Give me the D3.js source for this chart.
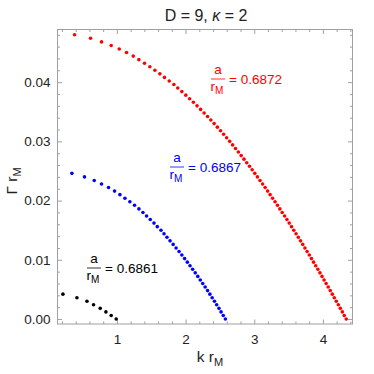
<!DOCTYPE html>
<html>
<head>
<meta charset="utf-8">
<script src="https://cdn.jsdelivr.net/npm/d3@7"></script>
<style>
  body { margin: 0; background: #fff; }
  text { font-family: "Liberation Sans", Arial, sans-serif; }
</style>
</head>
<body>
<div id="chart"></div>
<script>
// Data: k r_M and Gamma r_M for each branch
const kRed = [4.340, 4.311, 4.283, 4.254, 4.225, 4.195, 4.166, 4.137, 4.107, 4.077,
  4.047, 4.017, 3.987, 3.957, 3.926, 3.895, 3.864, 3.833, 3.802, 3.770,
  3.738, 3.706, 3.674, 3.642, 3.609, 3.576, 3.543, 3.509, 3.476, 3.442,
  3.407, 3.373, 3.338, 3.303, 3.267, 3.231, 3.195, 3.159, 3.122, 3.084,
  3.046, 3.008, 2.970, 2.931, 2.891, 2.851, 2.810, 2.769, 2.727, 2.685,
  2.642, 2.598, 2.554, 2.509, 2.463, 2.416, 2.368, 2.320, 2.270, 2.219,
  2.167, 2.114, 2.059, 2.003, 1.946, 1.886, 1.830, 1.762, 1.693, 1.626,
  1.553, 1.480, 1.402, 1.320, 1.238, 1.140, 1.034, 0.917, 0.776, 0.616,
  0.383];
const gammaRed = [0.0000, 0.0006, 0.0012, 0.0018, 0.0024, 0.0030, 0.0036, 0.0042, 0.0048, 0.0054,
  0.0060, 0.0066, 0.0072, 0.0078, 0.0084, 0.0090, 0.0096, 0.0102, 0.0108, 0.0114,
  0.0120, 0.0126, 0.0132, 0.0138, 0.0144, 0.0150, 0.0156, 0.0162, 0.0168, 0.0174,
  0.0180, 0.0186, 0.0192, 0.0198, 0.0204, 0.0210, 0.0216, 0.0222, 0.0228, 0.0234,
  0.0240, 0.0246, 0.0252, 0.0258, 0.0264, 0.0270, 0.0276, 0.0282, 0.0288, 0.0294,
  0.0300, 0.0306, 0.0312, 0.0318, 0.0324, 0.0330, 0.0336, 0.0342, 0.0348, 0.0354,
  0.0360, 0.0366, 0.0372, 0.0378, 0.0384, 0.0390, 0.0396, 0.0402, 0.0408, 0.0414,
  0.0420, 0.0426, 0.0432, 0.0438, 0.0444, 0.0450, 0.0456, 0.0462, 0.0468, 0.0474,
  0.0480];

const kBlue = [2.580, 2.549, 2.517, 2.486, 2.453, 2.421, 2.387, 2.354, 2.320, 2.285,
  2.250, 2.214, 2.178, 2.141, 2.103, 2.065, 2.026, 1.986, 1.946, 1.905,
  1.862, 1.819, 1.774, 1.729, 1.686, 1.642, 1.588, 1.540, 1.486, 1.432,
  1.379, 1.321, 1.257, 1.189, 1.117, 1.044, 0.966, 0.878, 0.776, 0.670,
  0.528, 0.345];
const gammaBlue = [0.0000, 0.0006, 0.0012, 0.0018, 0.0024, 0.0030, 0.0036, 0.0042, 0.0048, 0.0054,
  0.0060, 0.0066, 0.0072, 0.0078, 0.0084, 0.0090, 0.0096, 0.0102, 0.0108, 0.0114,
  0.0120, 0.0126, 0.0132, 0.0138, 0.0144, 0.0150, 0.0156, 0.0162, 0.0168, 0.0174,
  0.0180, 0.0186, 0.0192, 0.0198, 0.0204, 0.0210, 0.0216, 0.0222, 0.0228, 0.0234,
  0.0240, 0.0246];

const kBlack = [0.990, 0.917, 0.840, 0.757, 0.660, 0.564, 0.418, 0.214];
const gammaBlack = [0.0000, 0.0006, 0.0012, 0.0018, 0.0024, 0.0030, 0.0036, 0.0042];

const seriesNames = ["0.6872", "0.6867", "0.6861"];
const seriesColors = ["#ff0000", "#0000ff", "#000000"];
const xTicks = [1, 2, 3, 4];
const yTicks = [0, 0.01, 0.02, 0.03, 0.04];

// Layout
const W = 374, H = 374;
const m = { left: 57.5, right: 352.5, top: 29.5, bottom: 324 };

const svg = d3.select("#chart").append("svg")
    .attr("width", W)
    .attr("height", H);

const x = d3.scaleLinear().domain([0.135, 4.431]).range([m.left, m.right]);
const y = d3.scaleLinear().domain([-0.00084, 0.04889]).range([m.bottom, m.top]);

const frameColor = "#a0a0a0";

// minor tick values
const xMinor = d3.range(0.2, 4.41, 0.2).filter(v => Math.abs(v - Math.round(v)) > 1e-6);
const yMinor = d3.range(0.002, 0.0481, 0.002).filter(v => Math.abs(v * 100 - Math.round(v * 100)) > 1e-6);

function styleAxis(g) {
    g.select(".domain").remove();
    g.selectAll(".tick line").attr("stroke", frameColor);
    g.selectAll(".tick text").attr("fill", "#222").style("font-size", "13.5px");
}

// bottom
svg.append("g").attr("transform", `translate(0,${m.bottom})`)
    .call(d3.axisBottom(x).tickValues(xTicks).tickSize(-4.5).tickPadding(10).tickFormat(d3.format("d")))
    .call(styleAxis);
svg.append("g").attr("transform", `translate(0,${m.bottom})`)
    .call(d3.axisBottom(x).tickValues(xMinor).tickSize(-2.5).tickFormat(""))
    .call(styleAxis);
// top
svg.append("g").attr("transform", `translate(0,${m.top})`)
    .call(d3.axisTop(x).tickValues(xTicks).tickSize(-4.5).tickFormat(""))
    .call(styleAxis);
svg.append("g").attr("transform", `translate(0,${m.top})`)
    .call(d3.axisTop(x).tickValues(xMinor).tickSize(-2.5).tickFormat(""))
    .call(styleAxis);
// left
svg.append("g").attr("transform", `translate(${m.left},0)`)
    .call(d3.axisLeft(y).tickValues(yTicks).tickSize(-4.5).tickPadding(7).tickFormat(d3.format(".2f")))
    .call(styleAxis);
svg.append("g").attr("transform", `translate(${m.left},0)`)
    .call(d3.axisLeft(y).tickValues(yMinor).tickSize(-2.5).tickFormat(""))
    .call(styleAxis);
// right
svg.append("g").attr("transform", `translate(${m.right},0)`)
    .call(d3.axisRight(y).tickValues(yTicks).tickSize(-4.5).tickFormat(""))
    .call(styleAxis);
svg.append("g").attr("transform", `translate(${m.right},0)`)
    .call(d3.axisRight(y).tickValues(yMinor).tickSize(-2.5).tickFormat(""))
    .call(styleAxis);

// frame
svg.append("rect")
    .attr("x", m.left).attr("y", m.top)
    .attr("width", m.right - m.left).attr("height", m.bottom - m.top)
    .attr("fill", "none")
    .attr("stroke", frameColor)
    .attr("stroke-width", 1);

// points
const allSeries = [
    { k: kRed, g: gammaRed },
    { k: kBlue, g: gammaBlue },
    { k: kBlack, g: gammaBlack }
];
allSeries.forEach((s, i) => {
    const pts = s.k.map((k, j) => ({ k: k, g: s.g[j] }));
    svg.append("g").selectAll("circle")
        .data(pts)
        .enter()
        .append("circle")
        .attr("cx", d => x(d.k))
        .attr("cy", d => y(d.g))
        .attr("r", 1.8)
        .attr("fill", seriesColors[i]);
});

// title
const title = svg.append("text")
    .attr("x", 206).attr("y", 21)
    .attr("text-anchor", "middle")
    .style("font-size", "16px")
    .attr("fill", "#222");
title.append("tspan").text("D = 9, ");
title.append("tspan").style("font-style", "italic").text("κ");
title.append("tspan").text(" = 2");

// axis labels
const xl = svg.append("text")
    .attr("x", 210).attr("y", 362)
    .attr("text-anchor", "middle")
    .style("font-size", "15.5px")
    .attr("fill", "#222");
xl.append("tspan").text("k r");
xl.append("tspan").attr("dy", 4).style("font-size", "11px").text("M");

const yl = svg.append("text")
    .attr("transform", "translate(17,181) rotate(-90)")
    .attr("text-anchor", "middle")
    .style("font-size", "15.5px")
    .attr("fill", "#222");
yl.append("tspan").text("Γ r");
yl.append("tspan").attr("dy", 4).style("font-size", "11px").text("M");

// a / r_M = value labels
const labelPos = [[218, 79], [177, 167], [94, 268]];
labelPos.forEach((p, i) => {
    const g = svg.append("g").attr("transform", `translate(${p[0]},${p[1]})`)
        .attr("fill", seriesColors[i]);
    g.append("text").attr("x", 0).attr("y", -5)
        .attr("text-anchor", "middle").style("font-size", "13.5px").text("a");
    g.append("line").attr("x1", -7).attr("x2", 7).attr("y1", 0).attr("y2", 0)
        .attr("stroke", seriesColors[i]).attr("stroke-width", 0.8);
    const r = g.append("text").attr("x", -1).attr("y", 12)
        .attr("text-anchor", "middle").style("font-size", "13.5px");
    r.append("tspan").text("r");
    r.append("tspan").attr("dy", 3).style("font-size", "10px").text("M");
    g.append("text").attr("x", 11).attr("y", 4.5)
        .style("font-size", "13.5px").text("= " + seriesNames[i]);
});
</script>
</body>
</html>
